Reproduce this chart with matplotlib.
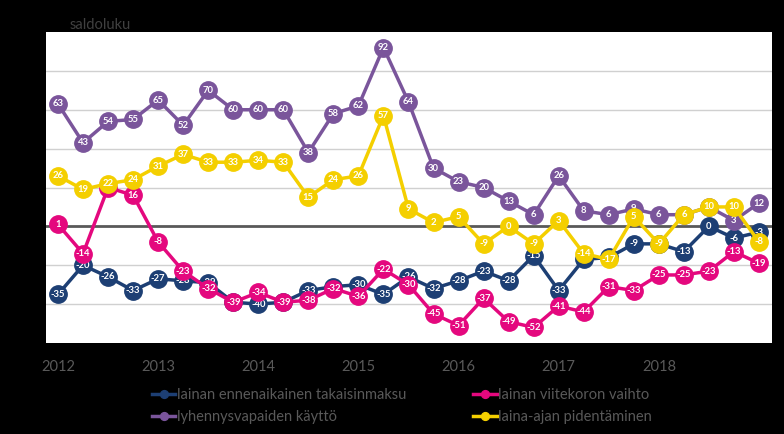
import numpy as np
import matplotlib.pyplot as plt

plt.rcParams["font.family"] = ["Lato", "DejaVu Sans"]

# quarterly balance figures 2012Q1 .. 2019Q1
quarters = list(range(29))
year_ticks = [0, 4, 8, 12, 16, 20, 24]
year_labels = ["2012", "2013", "2014", "2015", "2016", "2017", "2018"]

takaisinmaksu = [-35, -20, -26, -33, -27, -28, -29, -39, -40, -39, -33, -31, -30, -35, -26,
                 -32, -28, -23, -28, -15, -33, -17, -16, -9, -9, -13, 0, -6, -3]
viitekorko = [1, -14, 20, 16, -8, -23, -32, -39, -34, -39, -38, -32, -36, -22, -30,
              -45, -51, -37, -49, -52, -41, -44, -31, -33, -25, -25, -23, -13, -19]
lyhennysvapaat = [63, 43, 54, 55, 65, 52, 70, 60, 60, 60, 38, 58, 62, 92, 64,
                  30, 23, 20, 13, 6, 26, 8, 6, 9, 6, 6, 10, 3, 12]
laina_aika = [26, 19, 22, 24, 31, 37, 33, 33, 34, 33, 15, 24, 26, 57, 9,
              2, 5, -9, 0, -9, 3, -14, -17, 5, -9, 6, 10, 10, -8]

series = [
    ("lainan ennenaikainen takaisinmaksu", takaisinmaksu, "#1d3f74"),
    ("lainan viitekoron vaihto", viitekorko, "#e4087e"),
    ("lyhennysvapaiden käyttö", lyhennysvapaat, "#7a559b"),
    ("laina-ajan pidentäminen", laina_aika, "#f4cf00"),
]

TEXT = "#595959"


def main():
    fig = plt.figure(figsize=(7.84, 4.34), dpi=100, facecolor="black")
    ax = fig.add_axes([46 / 784, 1 - 343 / 434, 726 / 784, 311 / 434])
    ax.set_facecolor("white")

    handles = {}
    for i, (name, vals, color) in enumerate(series):
        z = 3 + i * 2
        (h,) = ax.plot(quarters, vals, color=color, lw=2.5, marker="o", ms=12.5,
                       mec=color, mfc=color, zorder=z, label=name)
        handles[name] = h
        for x, v in zip(quarters, vals):
            ax.text(x, v, str(v), ha="center", va="center", color="white",
                    fontsize=6.8, fontweight="bold", zorder=z + 0.5)

    ax.set_xlim(-0.48, 28.52)
    ax.set_ylim(-60, 100)
    ax.set_yticks([-40, -20, 20, 40, 60, 80])
    ax.yaxis.grid(True, color="#d0d0d0", lw=1)
    ax.set_axisbelow(True)
    ax.axhline(0, color="#595959", lw=2, zorder=2)
    ax.tick_params(axis="y", left=False, labelleft=False)
    ax.set_xticks(year_ticks)
    ax.set_xticklabels(year_labels, color=TEXT, fontsize=10.5)
    ax.tick_params(axis="x", length=0, pad=12)
    for s in ax.spines.values():
        s.set_visible(False)

    fig.text(70 / 784, 1 - 25 / 434, "saldoluku", color="#404040", fontsize=10.5, va="center")

    order = [series[0][0], series[2][0], series[1][0], series[3][0]]
    leg = fig.legend([handles[n] for n in order], order, loc="center",
                     bbox_to_anchor=(402 / 784, 1 - 406 / 434), ncol=2, frameon=False,
                     fontsize=10.5, columnspacing=4.6, handlelength=1.6, handletextpad=0.1,
                     labelspacing=0.6, markerscale=0.45)
    for t in leg.get_texts():
        t.set_color(TEXT)

    fig.savefig("out.png", dpi=100, facecolor="black")
    plt.close(fig)


if __name__ == "__main__":
    main()
